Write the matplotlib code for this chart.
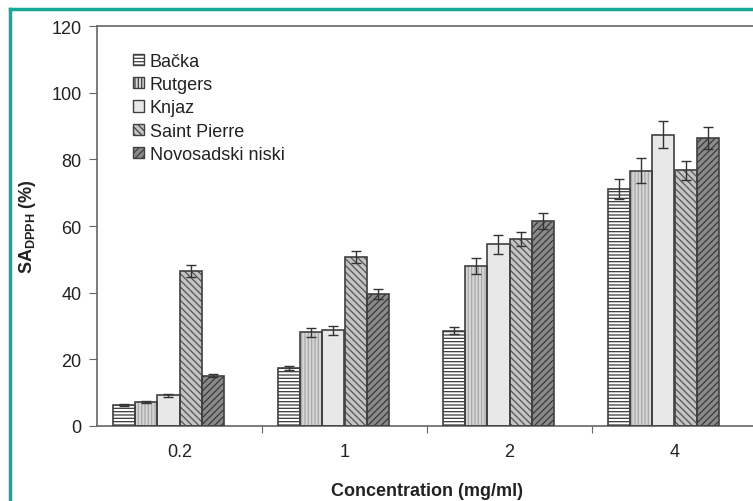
import matplotlib
matplotlib.use("Agg")
import matplotlib.pyplot as plt
import numpy as np
from matplotlib.lines import Line2D
from matplotlib.patches import Patch

plt.rcParams['font.family'] = ['Liberation Sans', 'DejaVu Sans']
plt.rcParams['mathtext.fontset'] = 'custom'
plt.rcParams['mathtext.rm'] = 'Liberation Sans:bold'
plt.rcParams['mathtext.bf'] = 'Liberation Sans:bold'
plt.rcParams['hatch.linewidth'] = 0.9

concentrations = ['0.2', '1', '2', '4']
cultivars = ['Bačka', 'Rutgers', 'Knjaz', 'Saint Pierre', 'Novosadski niski']

backa = [6.4, 17.5, 28.6, 71.1]
rutgers = [7.2, 28.1, 47.9, 76.6]
knjaz = [9.2, 28.7, 54.5, 87.4]
saint_pierre = [46.6, 50.8, 56.0, 76.7]
novosadski = [15.1, 39.5, 61.5, 86.5]

backa_err = [0.3, 0.6, 1.1, 2.9]
rutgers_err = [0.4, 1.4, 2.4, 3.7]
knjaz_err = [0.5, 1.4, 2.8, 4.1]
saint_pierre_err = [1.8, 1.8, 2.1, 2.9]
novosadski_err = [0.5, 1.5, 2.4, 3.3]

values = [backa, rutgers, knjaz, saint_pierre, novosadski]
errors = [backa_err, rutgers_err, knjaz_err, saint_pierre_err, novosadski_err]

# face colour, hatch, hatch colour for each series
styles = [
    ('white', '-----', '#3a3a3a'),
    ('#d6d6d6', '|||||', '#a8a8a8'),
    ('#e8e8e8', '', '#e8e8e8'),
    ('#c4c4c4', '\\\\\\\\\\', '#555555'),
    ('#8a8a8a', '/////', '#3a3a3a'),
]
edge = '#404040'
fs = 13

fig = plt.figure(figsize=(7.53, 5.02), dpi=100)
ax = fig.add_axes([97 / 753, 75 / 502, 660 / 753, 400 / 502])

x = np.arange(len(concentrations))
w = 0.134
handles = []
for i, (vals, errs) in enumerate(zip(values, errors)):
    face, hatch, hcol = styles[i]
    pos = x + (i - 2.5) * w
    ax.bar(pos, vals, w, color=face, hatch=hatch, edgecolor=hcol, linewidth=0, zorder=2)
    ax.bar(pos, vals, w, fill=False, edgecolor=edge, linewidth=1.2, zorder=3)
    ax.errorbar(pos, vals, yerr=errs, fmt='none', ecolor='#333333', elinewidth=1,
                capsize=3.5, capthick=1, zorder=4)
    handles.append(Patch(facecolor=face, hatch=hatch, edgecolor=edge, linewidth=1))

ax.set_xlim(-0.5, 3.5)
ax.set_ylim(0, 120)
ax.set_yticks(np.arange(0, 121, 20))
ax.set_xticks([0.5, 1.5, 2.5])
ax.set_xticklabels([])
ax.set_xticks(x, minor=True)
ax.set_xticklabels(concentrations, minor=True)
ax.tick_params(axis='x', which='minor', length=0, pad=12, labelsize=fs, colors='#222222')
ax.tick_params(axis='x', which='major', length=5, direction='out', color='#666666')
ax.tick_params(axis='y', length=6, pad=5, labelsize=fs, color='#666666', labelcolor='#222222')

for s in ['left', 'bottom', 'top']:
    ax.spines[s].set_color('#666666')
    ax.spines[s].set_linewidth(1.2)
ax.spines['right'].set_visible(False)

ax.set_xlabel('Concentration (mg/ml)', fontsize=fs, fontweight='bold', color='#222222', labelpad=16)
ax.set_ylabel(r'SA$_{\mathrm{DPPH}}$ (%)', fontsize=fs, fontweight='bold', color='#222222', labelpad=10)

leg = ax.legend(handles, cultivars, loc='upper left', bbox_to_anchor=(0.055, 0.933),
                frameon=False, fontsize=fs, handlelength=0.6, handleheight=0.6,
                handletextpad=0.3, labelspacing=0.35, borderaxespad=0, borderpad=0)
for t in leg.get_texts():
    t.set_color('#222222')

# teal frame around the figure (cropped on the right and bottom)
teal = '#17a997'
fig.add_artist(Line2D([10 / 753, 1.0], [1 - 10 / 502, 1 - 10 / 502], transform=fig.transFigure,
                      color=teal, linewidth=2.5))
fig.add_artist(Line2D([10 / 753, 10 / 753], [0, 1 - 10 / 502], transform=fig.transFigure,
                      color=teal, linewidth=2.5))

fig.savefig('out.png', dpi=100)
